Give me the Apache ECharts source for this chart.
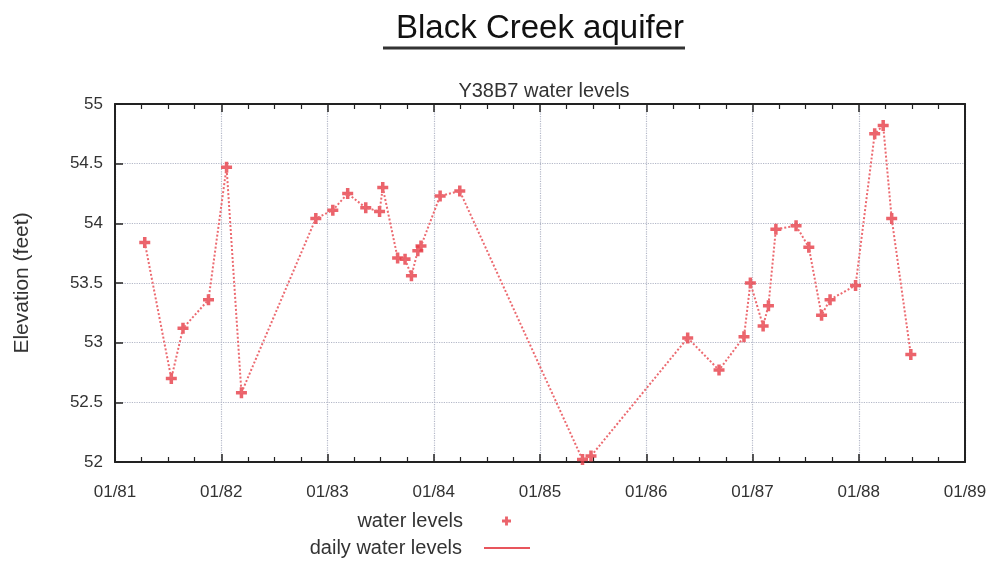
<!DOCTYPE html>
<html>
<head>
<meta charset="utf-8">
<script src="https://cdn.jsdelivr.net/npm/echarts@6/dist/echarts.min.js"></script>
<style>html,body{margin:0;padding:0;background:#fff;}#c{width:995px;height:563px;}</style>
</head>
<body>
<div id="c"></div>
<script>
// Sample dates as decimal years, and water level elevations (feet)
const sampleYears = [1981.28, 1981.53, 1981.64, 1981.88, 1982.05, 1982.19, 1982.89, 1983.05, 1983.19, 1983.36, 1983.49, 1983.52, 1983.66, 1983.73, 1983.79, 1983.85, 1983.88, 1984.06, 1984.245, 1985.40, 1985.48, 1986.39, 1986.685, 1986.92, 1986.98, 1987.10, 1987.15, 1987.22, 1987.41, 1987.53, 1987.65, 1987.73, 1987.97, 1988.15, 1988.23, 1988.31, 1988.49];
const waterLevels = [53.84, 52.70, 53.12, 53.36, 54.47, 52.58, 54.04, 54.11, 54.25, 54.13, 54.10, 54.30, 53.71, 53.70, 53.56, 53.77, 53.81, 54.23, 54.27, 52.02, 52.05, 53.04, 52.77, 53.05, 53.50, 53.14, 53.31, 53.95, 53.98, 53.80, 53.23, 53.36, 53.48, 54.75, 54.82, 54.04, 52.90];
const xTickLabels = ['01/81', '01/82', '01/83', '01/84', '01/85', '01/86', '01/87', '01/88', '01/89'];
const yTickLabels = ['52', '52.5', '53', '53.5', '54', '54.5', '55'];

const pts = sampleYears.map((x, i) => [x, waterLevels[i]]);
const plusPath = 'path://M3.4,0 L6.6,0 L6.6,3.4 L10,3.4 L10,6.6 L6.6,6.6 L6.6,10 L3.4,10 L3.4,6.6 L0,6.6 L0,3.4 L3.4,3.4 Z';
const font = 'Liberation Sans, Arial, sans-serif';
const axisColor = '#222';
const gridLine = { show: true, lineStyle: { type: 'dotted', color: '#b4b8c8', width: 1.2 } };

const chart = echarts.init(document.getElementById('c'));
chart.setOption({
  backgroundColor: '#fff',
  animation: false,
  textStyle: { fontFamily: font },
  title: [
    { text: 'Black Creek aquifer', left: 535, top: 7, textAlign: 'center',
      textStyle: { fontSize: 33, fontWeight: 'normal', color: '#111', fontFamily: font } },
    { text: 'Y38B7 water levels', left: 539, top: 76, textAlign: 'center',
      textStyle: { fontSize: 20, fontWeight: 'normal', color: '#333', fontFamily: font } }
  ],
  graphic: [
    { type: 'line', shape: { x1: 383, y1: 48, x2: 685, y2: 48 }, style: { stroke: '#333', lineWidth: 3 } }
  ],
  legend: [
    { data: [{ name: 'water levels', icon: plusPath }], right: 484, top: 511, orient: 'vertical', align: 'right',
      padding: 0, itemWidth: 9, itemHeight: 9,
      textStyle: { fontSize: 20, color: '#333', padding: [0, 34, 0, 0], fontFamily: font } },
    { data: [{ name: 'daily water levels', icon: 'rect' }], right: 465, top: 538, orient: 'vertical', align: 'right',
      padding: 0, itemWidth: 46, itemHeight: 2,
      textStyle: { fontSize: 20, color: '#333', padding: [0, 17, 0, 0], fontFamily: font } }
  ],
  grid: { left: 115, right: 30, top: 104, bottom: 101 },
  xAxis: [
    { type: 'value', position: 'bottom', min: 1981, max: 1989, interval: 1,
      axisLine: { show: true, onZero: false, lineStyle: { color: axisColor, width: 2 } },
      axisTick: { show: true, inside: true, length: 8, lineStyle: { color: axisColor, width: 1.5 } },
      minorTick: { show: true, splitNumber: 4, length: 5, lineStyle: { color: axisColor, width: 1.2 } },
      splitLine: gridLine,
      axisLabel: { margin: 22, fontSize: 17, color: '#333', fontFamily: font,
        formatter: v => xTickLabels[Math.round(v - 1981)] } },
    { type: 'value', position: 'top', min: 1981, max: 1989, interval: 1,
      axisLine: { show: true, onZero: false, lineStyle: { color: axisColor, width: 2 } },
      axisTick: { show: true, inside: true, length: 8, lineStyle: { color: axisColor, width: 1.5 } },
      minorTick: { show: true, splitNumber: 4, length: 5, lineStyle: { color: axisColor, width: 1.2 } },
      splitLine: { show: false }, axisLabel: { show: false } }
  ],
  yAxis: [
    { type: 'value', position: 'left', min: 52, max: 55, interval: 0.5,
      name: 'Elevation (feet)', nameLocation: 'middle', nameRotate: 90, nameGap: 82,
      nameTextStyle: { fontSize: 21, color: '#333', fontFamily: font },
      axisLine: { show: true, onZero: false, lineStyle: { color: axisColor, width: 2 } },
      axisTick: { show: true, inside: true, length: 8, lineStyle: { color: axisColor, width: 1.5 } },
      splitLine: gridLine,
      axisLabel: { margin: 12, fontSize: 17, color: '#333', fontFamily: font,
        formatter: v => yTickLabels[Math.round((v - 52) * 2)] } },
    { type: 'value', position: 'right', min: 52, max: 55, interval: 0.5,
      axisLine: { show: true, onZero: false, lineStyle: { color: axisColor, width: 2 } },
      axisTick: { show: false }, splitLine: { show: false }, axisLabel: { show: false } }
  ],
  series: [
    { name: 'daily water levels', type: 'line', xAxisIndex: 0, yAxisIndex: 0, data: pts,
      showSymbol: false, symbol: 'none', clip: false,
      itemStyle: { color: '#e8555c' },
      lineStyle: { type: 'dotted', width: 2, color: '#ec6a70' } },
    { name: 'water levels', type: 'scatter', xAxisIndex: 0, yAxisIndex: 0, data: pts,
      symbol: plusPath, symbolSize: 11, clip: false,
      itemStyle: { color: '#e63c46' } }
  ]
});
</script>
</body>
</html>
